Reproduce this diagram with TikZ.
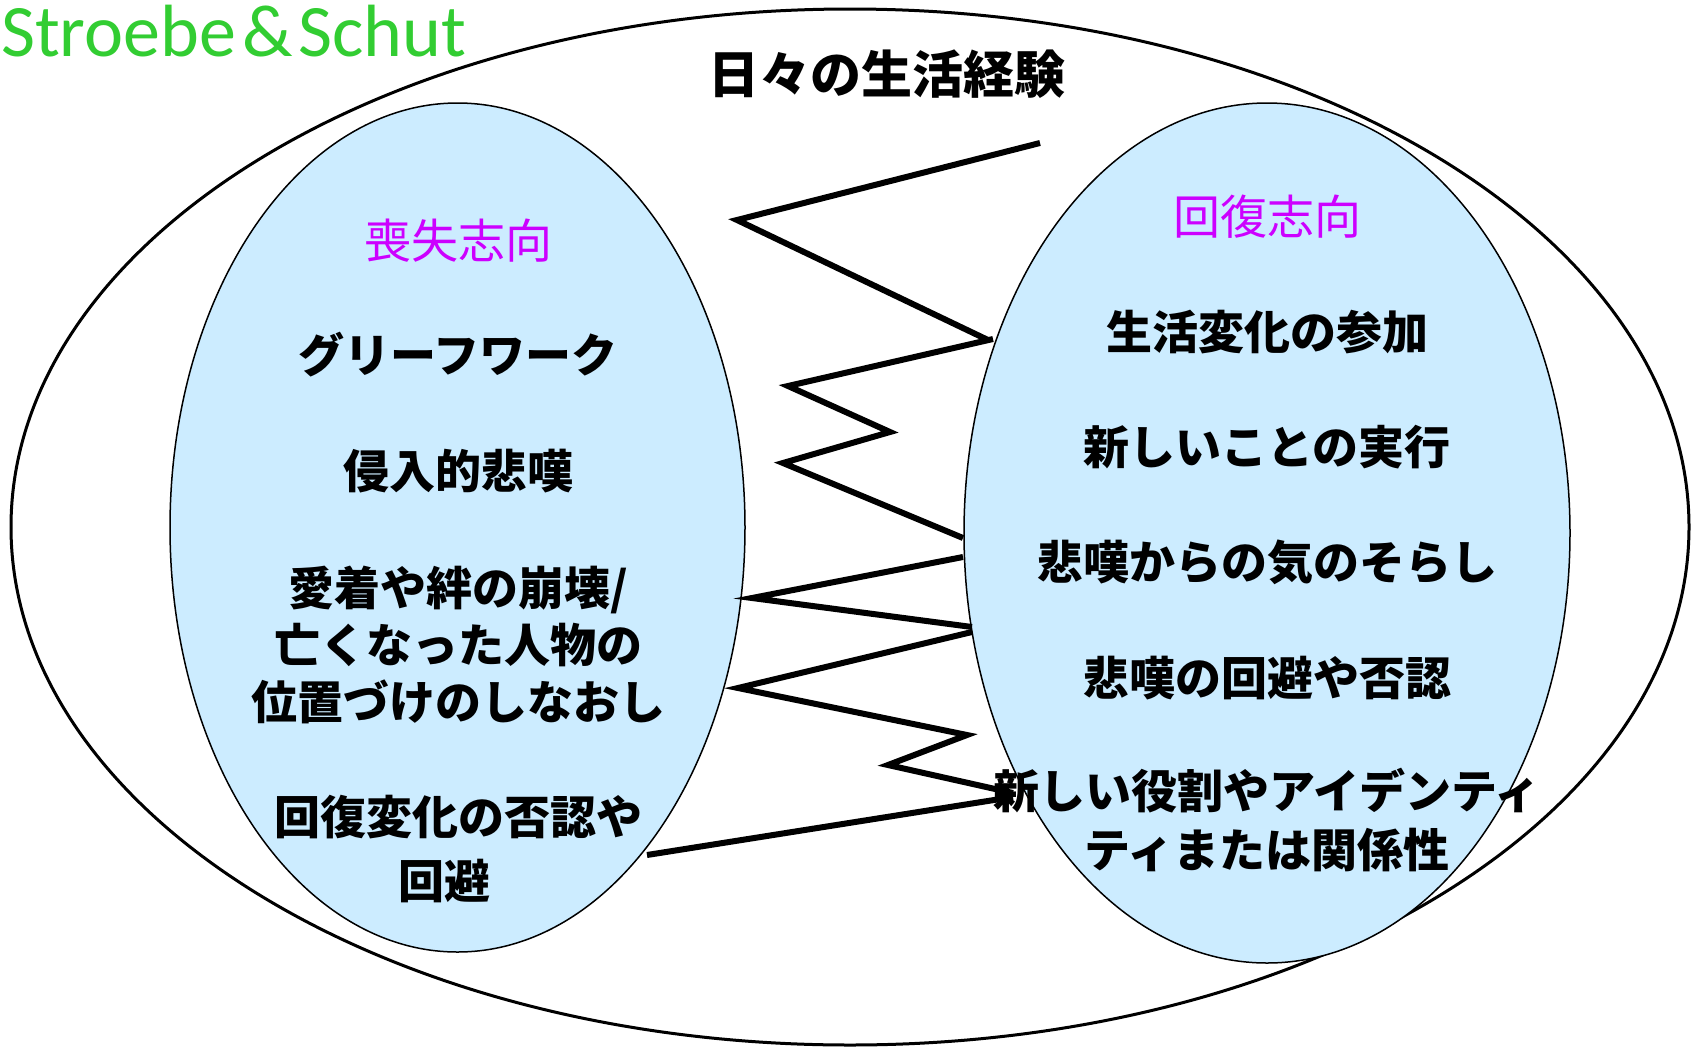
\documentclass[tikz,border=0pt]{standalone}
\usepackage{fontspec}
\usetikzlibrary{shapes.geometric}
\newfontfamily\jp{Noto Sans CJK JP}
\newfontfamily\carl{Carlito}
\definecolor{lightblue}{RGB}{204,236,255}
\definecolor{headmag}{RGB}{204,0,255}
\definecolor{authgreen}{RGB}{50,205,50}
\tikzset{
  orient/.style={draw=black, line width=1.5pt, fill=lightblue, ellipse, inner sep=0pt},
  item/.style={inner sep=0pt, align=center, font=\jp\bfseries\fontsize{46}{56}\selectfont},
  heading/.style={inner sep=0pt, text=headmag, font=\jp\fontsize{47}{56}\selectfont},
  titletext/.style={inner sep=0pt, font=\jp\bfseries\fontsize{51}{60}\selectfont},
  zig/.style={line width=6pt, line join=miter, line cap=butt}
}
\begin{document}
\begin{tikzpicture}[x=1pt,y=-1pt]
\path[use as bounding box, fill=white] (0,0) rectangle (1698,1047);
% outer ellipse
\draw[line width=3pt] (850,527) ellipse [x radius=839, y radius=518];
% inner ellipses
\node[orient, minimum width=575pt, minimum height=849pt] (loss) at (457.5,527.5) {};
\node[orient, minimum width=606pt, minimum height=860pt] (resto) at (1267,533) {};
% zigzag
\coordinate (z1) at (1040,143);
\coordinate (z2) at (737,220);
\coordinate (z3) at (988,340);
\coordinate (z4) at (993,339);
\coordinate (z5) at (788,386);
\coordinate (z6) at (890,432);
\coordinate (z7) at (783,463);
\coordinate (z8) at (963,538);
\coordinate (z9) at (963,557);
\coordinate (z10) at (752,598);
\coordinate (z11) at (972,627);
\coordinate (z12) at (972,632);
\coordinate (z13) at (738,688);
\coordinate (z14) at (967,735);
\coordinate (z15) at (888,765);
\coordinate (z16) at (1013,793);
\coordinate (z17) at (1013,797);
\coordinate (z18) at (647,855);
\draw[zig] (z1) -- (z2) -- (z3);
\draw[zig] (z4) -- (z5) -- (z6) -- (z7) -- (z8);
\draw[zig] (z9) -- (z10) -- (z11);
\draw[zig] (z12) -- (z13) -- (z14) -- (z15) -- (z16);
\draw[zig] (z17) -- (z18);
% texts
\node[anchor=base west, inner sep=0pt, text=authgreen, font=\carl\fontsize{74}{82}\selectfont] (author) at (1,56) {Stroebe\kern6pt\&\kern6pt Schut};
\node[titletext] (title) at (887,74) {日々の生活経験};
\node[heading] (losshead) at (458,241) {喪失志向};
\node[heading] (restohead) at (1267,217) {回復志向};
\node[item] (l1) at (458,355) {グリーフワーク};
\node[item] (l2) at (458,471) {侵入的悲嘆};
\node[item, font=\jp\bfseries\fontsize{46}{57}\selectfont] (l3) at (458,645) {愛着や絆の崩壊/\\亡くなった人物の\\位置づけのしなおし};
\node[item, font=\jp\bfseries\fontsize{46}{64}\selectfont] (l4) at (458,849) {回復変化の否認や\\回避\kern28pt};
\node[item] (r1) at (1267,332) {生活変化の参加};
\node[item] (r2) at (1267,447) {新しいことの実行};
\node[item] (r3) at (1267,562) {悲嘆からの気のそらし};
\node[item] (r4) at (1267,678) {悲嘆の回避や否認};
\node[item, font=\jp\bfseries\fontsize{46}{59}\selectfont] (r5) at (1267,820) {新しい役割やアイデンティ\\ティまたは関係性};
\end{tikzpicture}
\end{document}
